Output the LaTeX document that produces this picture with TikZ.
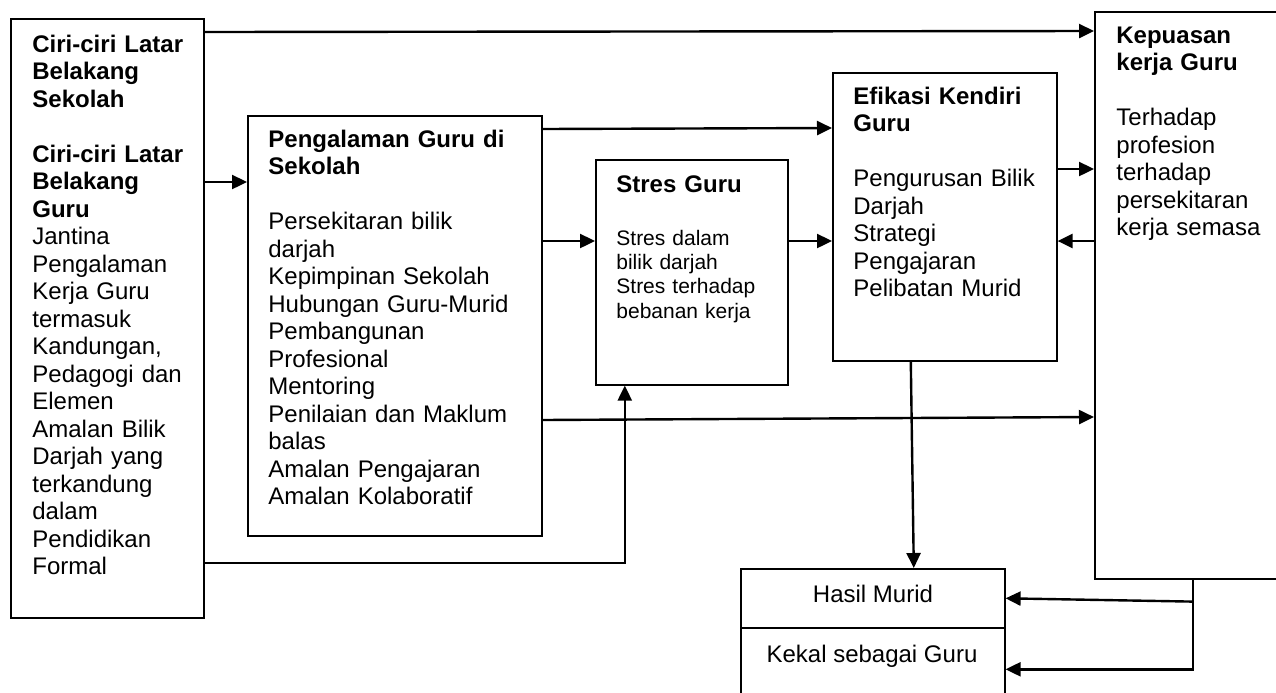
\documentclass[tikz,border=0pt]{standalone}
\usepackage{fontspec}
\setmainfont{Liberation Sans}
\usepackage{tikz}
\usetikzlibrary{arrows.meta, positioning, calc}

\begin{document}
\begin{tikzpicture}[
    x=0.5pt, y=-0.5pt,
    box/.style={rectangle, draw, line width=0.8pt, anchor=north west, inner sep=0pt},
    txt/.style={anchor=base west, inner sep=0pt, align=left, font=\fontsize{12}{13.75}\selectfont},
    small/.style={anchor=base west, inner sep=0pt, align=left, font=\fontsize{10.5}{12.2}\selectfont},
    label/.style={anchor=base, inner sep=0pt, font=\fontsize{12}{13.75}\selectfont},
    arrow/.style={-{Triangle[length=7.5pt, width=7pt]}, line width=1.2pt}
]
    \useasboundingbox (0,0) rectangle (1276,692);
    \clip (0,0) rectangle (1276,692);

    % boxes
    \node[box, minimum width=96.5pt, minimum height=299.5pt] (school) at (10,18) {};
    \node[box, minimum width=147pt, minimum height=210pt] (exp) at (247,115) {};
    \node[box, minimum width=96pt, minimum height=112.5pt] (stress) at (595,159) {};
    \node[box, minimum width=112pt, minimum height=144pt] (eff) at (832,72) {};
    \node[box, minimum width=98pt, minimum height=283.5pt] (sat) at (1094,11) {};
    \node[box, minimum width=132pt, minimum height=29.5pt] (outcome) at (740,568) {};
    \node[box, minimum width=132pt, minimum height=41.5pt] (stay) at (740,627) {};

    % box texts
    \node[txt, text width=90pt] (school-txt) at (32,52) {{\bfseries Ciri-ciri Latar\\Belakang\\Sekolah}\\[13.75pt]{\bfseries Ciri-ciri Latar\\Belakang\\Guru}\\Jantina\\Pengalaman\\Kerja Guru\\termasuk\\Kandungan,\\Pedagogi dan\\Elemen\\Amalan Bilik\\Darjah yang\\terkandung\\dalam\\Pendidikan\\Formal};
    \node[txt, text width=135pt] (exp-txt) at (268,147) {{\bfseries Pengalaman Guru di\\Sekolah}\\[13.75pt]Persekitaran bilik\\darjah\\Kepimpinan Sekolah\\Hubungan Guru-Murid\\Pembangunan\\Profesional\\Mentoring\\Penilaian dan Maklum\\balas\\Amalan Pengajaran\\Amalan Kolaboratif};
    \node[txt, text width=85pt] (stress-title) at (616,192) {\bfseries Stres Guru};
    \node[small, text width=85pt] (stress-txt) at (616,245) {Stres dalam\\bilik darjah\\Stres terhadap\\bebanan kerja};
    \node[txt, text width=100pt] (eff-txt) at (853,104) {{\bfseries Efikasi Kendiri\\Guru}\\[13.75pt]Pengurusan Bilik\\Darjah\\Strategi\\Pengajaran\\Pelibatan Murid};
    \node[txt, text width=80pt] (sat-txt) at (1116,43) {{\bfseries Kepuasan\\kerja Guru}\\[13.75pt]Terhadap\\profesion\\terhadap\\persekitaran\\kerja semasa};
    \node[label] (outcome-txt) at (873,602) {Hasil Murid};
    \node[label] (stay-txt) at (872,662) {Kekal sebagai Guru};

    % arrows
    \draw[arrow] ([yshift=-7pt]school.north east) -- ([yshift=-10pt]sat.north west);
    \draw[arrow] ([yshift=-82pt]school.north east) -- ([yshift=-33.5pt]exp.north west);
    \draw[arrow] ([yshift=-7pt]exp.north east) -- ([yshift=-28pt]eff.north west);
    \draw[arrow] ([yshift=-63pt]exp.north east) -- ([yshift=-41pt]stress.north west);
    \draw[arrow] ([yshift=-41pt]stress.north east) -- ([yshift=-84.5pt]eff.north west);
    \draw[arrow] ([yshift=-48.5pt]eff.north east) -- ([yshift=-79pt]sat.north west);
    \draw[arrow] ([yshift=-115pt]sat.north west) -- ([yshift=-84.5pt]eff.north east);
    \draw[arrow] ([yshift=-152.5pt]exp.north east) -- ([yshift=-203pt]sat.north west);
    \draw[arrow] ([yshift=-272.5pt]school.north east) -| ([xshift=-33.5pt]stress.south);
    \draw[arrow] ([xshift=-17pt]eff.south) -- ([xshift=20.5pt]outcome.north);
    \draw[arrow] ([yshift=-11pt]sat.south) -- (outcome.east);
    \draw[arrow] (sat.south) |- (stay.east);
\end{tikzpicture}
\end{document}
